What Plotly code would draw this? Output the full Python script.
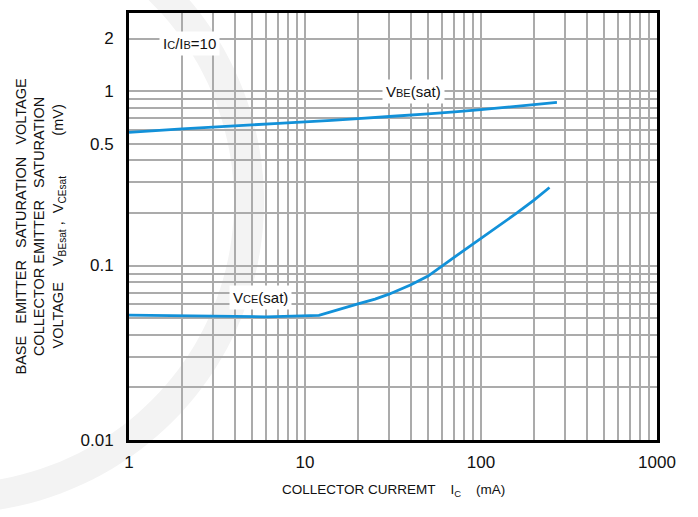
import numpy as np
import plotly.graph_objects as go

# ---- data ----
ic_vbe = [1, 2, 5, 10, 20, 50, 100, 200, 270]
vbe_sat = [0.58, 0.607, 0.64, 0.665, 0.695, 0.74, 0.782, 0.835, 0.86]

ic_vce = [1, 3, 6, 12, 15, 20, 25, 30, 40, 50, 70, 100, 130, 160, 200, 245]
vce_sat = [0.052, 0.0512, 0.0508, 0.0518, 0.0555, 0.0603, 0.0642, 0.0685, 0.0775,
           0.087, 0.111, 0.143, 0.172, 0.200, 0.237, 0.280]

x_label_vals = [1, 10, 100, 1000]
x_label_text = ["1", "10", "100", "1000"]
y_label_vals = [0.01, 0.1, 0.5, 1, 2]
y_label_text = ["0.01", "0.1", "0.5", "1", "2"]

x_grid = [m * 10 ** d for d in range(0, 3) for m in range(1, 10)] + [1000]
y_grid = [round(m * 10.0 ** d, 4) for d in range(-2, 1) for m in range(1, 10)] + [2]

FONT = "Liberation Sans, Arial, sans-serif"
BLUE = "#1291d9"
GRID = "#ababab"


def text_for(vals, label_vals, label_text):
    out = []
    for v in vals:
        hit = [t for lv, t in zip(label_vals, label_text) if abs(lv - v) < 1e-9]
        out.append(hit[0] if hit else "")
    return out


fig = go.Figure()
fig.add_trace(go.Scatter(x=ic_vbe, y=vbe_sat, mode="lines",
                         line=dict(color=BLUE, width=2.8, shape="spline", smoothing=0.3),
                         showlegend=False))
fig.add_trace(go.Scatter(x=ic_vce, y=vce_sat, mode="lines",
                         line=dict(color=BLUE, width=2.8),
                         showlegend=False))

# faint watermark arc in background
theta = np.radians(np.linspace(-62, 100, 80))
cx, cy = -50, 200
r_out, r_in = 314, 284
pts = [(cx + r_out * np.cos(t), cy + r_out * np.sin(t)) for t in theta] + \
      [(cx + r_in * np.cos(t), cy + r_in * np.sin(t)) for t in theta[::-1]]
L, R, T, B = 129, 657, 10, 440
path = "M " + " L ".join(f"{(px - L) / (R - L):.4f},{(B - py) / (B - T):.4f}" for px, py in pts) + " Z"
fig.add_shape(type="path", path=path, xref="paper", yref="paper",
              fillcolor="#f3f3f3", line=dict(width=0), layer="below")

fig.update_xaxes(type="log", range=[0, 3],
                 tickmode="array", tickvals=x_grid,
                 ticktext=text_for(x_grid, x_label_vals, x_label_text),
                 showgrid=True, gridcolor=GRID, gridwidth=1.6,
                 showline=True, linecolor="black", linewidth=3, mirror=True,
                 ticks="", zeroline=False, ticklabelstandoff=5,
                 tickfont=dict(family=FONT, size=17, color="#111111"))
fig.update_yaxes(type="log", range=[-2, np.log10(2.8)],
                 tickmode="array", tickvals=y_grid,
                 ticktext=text_for(y_grid, y_label_vals, y_label_text),
                 showgrid=True, gridcolor=GRID, gridwidth=1.6,
                 showline=True, linecolor="black", linewidth=3, mirror=True,
                 ticks="", zeroline=False, ticklabelstandoff=9,
                 tickfont=dict(family=FONT, size=17, color="#111111"))

small = "<span style='font-size:11px'>{}</span>"
ann = [
    dict(x=np.log10(2.22), y=np.log10(1.87),
         text="I" + small.format("C") + "/I" + small.format("B") + "=10"),
    dict(x=np.log10(41.6), y=np.log10(0.99),
         text="V" + small.format("BE") + "(sat)"),
    dict(x=np.log10(5.6), y=np.log10(0.066),
         text="V" + small.format("CE") + "(sat)"),
]
for a in ann:
    fig.add_annotation(x=a["x"], y=a["y"], xref="x", yref="y", text=a["text"],
                       showarrow=False, bgcolor="white", borderpad=3,
                       font=dict(family=FONT, size=15, color="#111111"))

nb = "\u00a0"
ytitle = (f"BASE{nb*3}EMITTER{nb*3}SATURATION{nb*3}VOLTAGE<br>"
          f"COLLECTOR EMITTER{nb*3}SATURATION<br>"
          f"VOLTAGE{nb*4}V<sub>BEsat</sub>{nb}, {nb}V<sub>CEsat</sub>{nb*10}(mV)")
fig.add_annotation(x=(40 - L) / (R - L), y=0.5, xref="paper", yref="paper",
                   text=ytitle, textangle=-90, showarrow=False,
                   xanchor="center", yanchor="middle",
                   font=dict(family=FONT, size=14.5, color="#111111"))

fig.add_annotation(x=0.5, y=0, xref="paper", yref="paper", yshift=-50,
                   text=f"COLLECTOR CURREMT{nb*4}I<sub>C</sub>{nb*4}(mA)",
                   showarrow=False, xanchor="center", yanchor="middle",
                   font=dict(family=FONT, size=13.5, color="#111111"))

fig.update_layout(width=698, height=517,
                  margin=dict(l=L, r=698 - R, t=T, b=517 - B),
                  paper_bgcolor="white", plot_bgcolor="rgba(0,0,0,0)",
                  font=dict(family=FONT), showlegend=False)

fig.write_html("out.html")
